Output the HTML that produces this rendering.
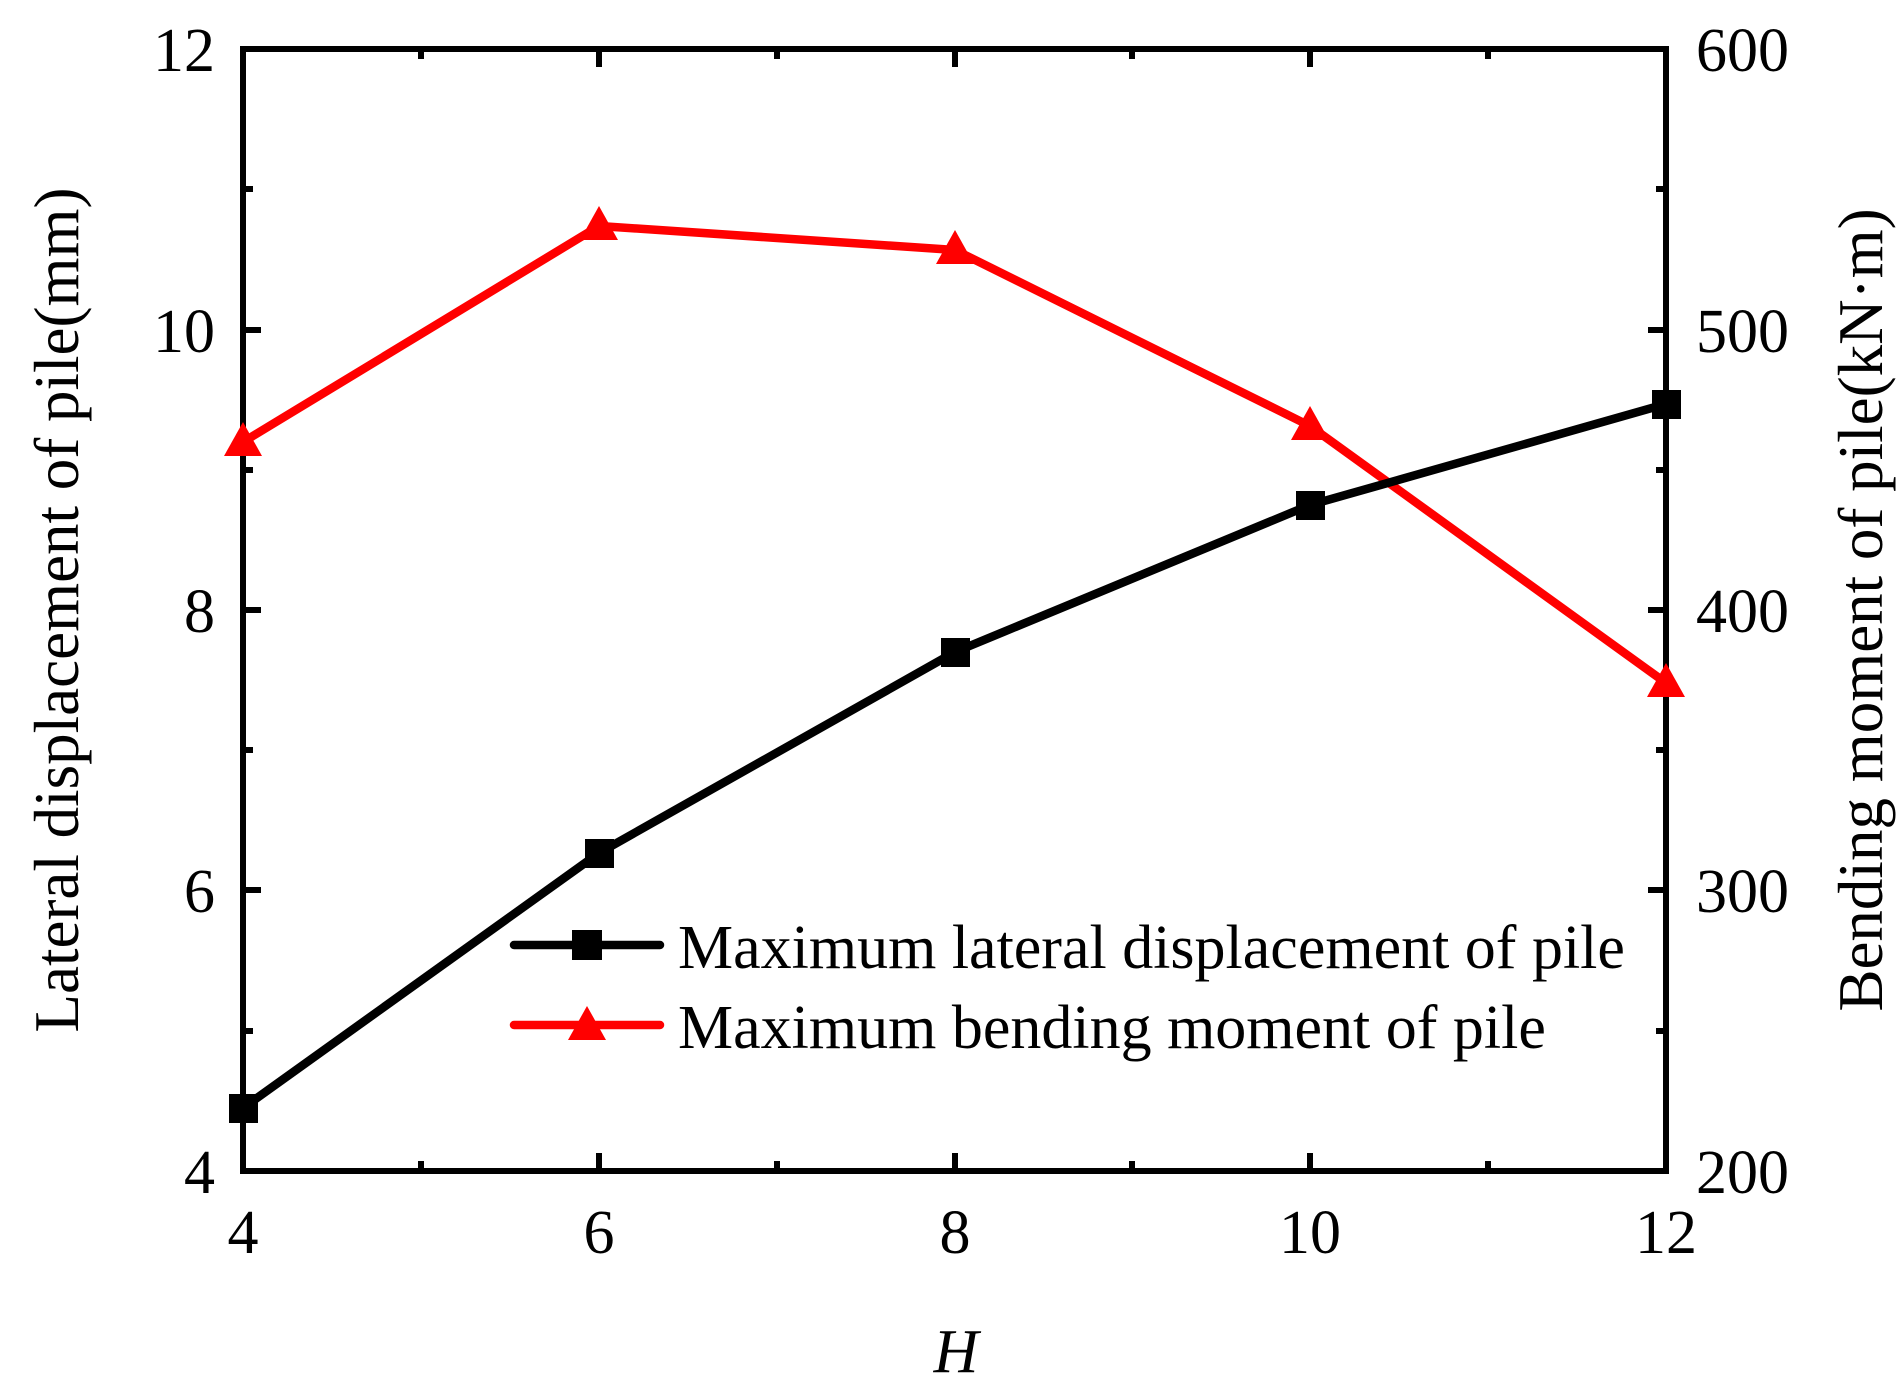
<!DOCTYPE html>
<html><head><meta charset="utf-8"><style>
html,body{margin:0;padding:0;background:#fff;}
svg{display:block;}
text{font-family:"Liberation Serif",serif;fill:#000;}
</style></head><body>
<svg width="1903" height="1384" viewBox="0 0 1903 1384" xmlns="http://www.w3.org/2000/svg">
<g stroke="#000" stroke-width="6" fill="none">
<path d="M599,1171v-18M955,1171v-18M1310,1171v-18 M599,49v18M955,49v18M1310,49v18"/>
<path d="M421,1171v-10M777,1171v-10M1132,1171v-10M1488,1171v-10 M421,49v10M777,49v10M1132,49v10M1488,49v10"/>
<path d="M243,890h18M243,610h18M243,330h18 M1666,890h-18M1666,610h-18M1666,330h-18"/>
<path d="M243,1031h10M243,750h10M243,470h10M243,189h10 M1666,1031h-10M1666,750h-10M1666,470h-10M1666,189h-10"/>
<rect x="243" y="49" width="1423" height="1122"/>
</g>
<polyline points="243,442 599,226 955,250 1310,426 1666,683" fill="none" stroke="#ff0000" stroke-width="8.5" stroke-linejoin="round"/>
<g fill="#ff0000">
<polygon points="243,422 224,456 262,456"/>
<polygon points="599,206 580,240 618,240"/>
<polygon points="955,230 936,264 974,264"/>
<polygon points="1310,406 1291,440 1329,440"/>
<polygon points="1666,663 1647,697 1685,697"/>
</g>
<polyline points="243,1108 599,853 955,652 1310,505 1666,404" fill="none" stroke="#000" stroke-width="8.5" stroke-linejoin="round"/>
<g fill="#000">
<rect x="229" y="1094" width="29" height="29"/>
<rect x="585" y="839" width="29" height="29"/>
<rect x="941" y="638" width="29" height="29"/>
<rect x="1296" y="491" width="29" height="29"/>
<rect x="1652" y="390" width="29" height="29"/>
</g>
<line x1="514" y1="945" x2="660" y2="945" stroke="#000" stroke-width="8.5" stroke-linecap="round"/>
<rect x="572" y="930" width="30" height="30" fill="#000"/>
<line x1="514" y1="1025" x2="660" y2="1025" stroke="#ff0000" stroke-width="8.5" stroke-linecap="round"/>
<polygon points="587,1006 568,1040 606,1040" fill="#ff0000"/>
<text x="678" y="968" font-size="62">Maximum lateral displacement of pile</text>
<text x="678" y="1048" font-size="62">Maximum bending moment of pile</text>
<g font-size="62" text-anchor="end">
<text x="215" y="71">12</text><text x="215" y="352">10</text><text x="215" y="632">8</text><text x="215" y="912">6</text><text x="215" y="1193">4</text>
</g>
<g font-size="62" text-anchor="start">
<text x="1696" y="71">600</text><text x="1696" y="352">500</text><text x="1696" y="632">400</text><text x="1696" y="912">300</text><text x="1696" y="1193">200</text>
</g>
<g font-size="62" text-anchor="middle">
<text x="243" y="1253">4</text><text x="599" y="1253">6</text><text x="955" y="1253">8</text><text x="1310" y="1253">10</text><text x="1666" y="1253">12</text>
</g>
<text x="956" y="1372" font-size="62" font-style="italic" text-anchor="middle">H</text>
<text transform="translate(78,610) rotate(-90)" font-size="63" text-anchor="middle">Lateral displacement of pile(mm)</text>
<text transform="translate(1882,610) rotate(-90)" font-size="63" text-anchor="middle">Bending moment of pile(kN·m)</text>
</svg>
</body></html>
